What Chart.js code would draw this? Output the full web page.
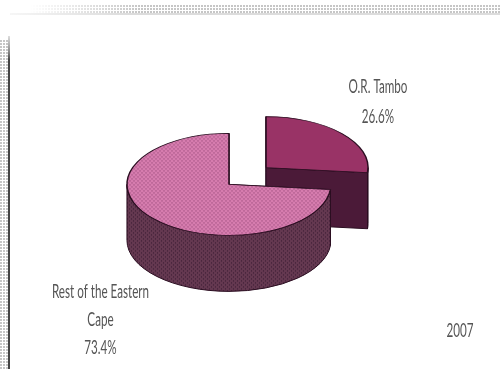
<!DOCTYPE html>
<html>
<head>
<meta charset="utf-8">
<script src="https://cdn.jsdelivr.net/npm/chart.js@4"></script>
<style>
  html, body { margin: 0; padding: 0; background: #fff; }
  #page { position: relative; width: 500px; height: 369px; overflow: hidden; }
  #topDots {
    position: absolute; left: 30px; right: 0; top: 5px; height: 8px;
    background-image: radial-gradient(circle at 1px 1px, #c6c6c6 0.8px, transparent 1.1px);
    background-size: 3px 3px;
    -webkit-mask-image: linear-gradient(90deg, transparent, #000 110px);
  }
  #topRule { position: absolute; left: 10px; right: 0; top: 13px; height: 2px; background: linear-gradient(90deg, #f6f6f6, #dcdcdc 120px); }
  #leftDots {
    position: absolute; left: 0; width: 8px; top: 40px; bottom: 0;
    background-image: radial-gradient(circle at 1px 1px, #c6c6c6 0.8px, transparent 1.1px);
    background-size: 3px 3px;
  }
  #leftRule { position: absolute; left: 8px; width: 2px; top: 36px; bottom: 0; background: linear-gradient(#ddd, #888 16px, #444 24px); }
  canvas { position: absolute; left: 0; top: 0; }
</style>
</head>
<body>
<div id="page">
  <div id="topDots"></div>
  <div id="topRule"></div>
  <div id="leftDots"></div>
  <div id="leftRule"></div>
  <canvas id="pieChart" width="500" height="369"></canvas>
</div>
<script>
const labels = [["O.R. Tambo"], ["Rest of the Eastern", "Cape"]];
const values = [26.6, 73.4];
const yearLabel = "2007";

const squash = 0.5;      // tilt of the pie
const wallDepth = 56;
const explode = 25;      // how far each slice sits from the centre
const textColor = "#555";

function dots(base, dot, stretch) {
  const tile = document.createElement("canvas");
  tile.width = 4;
  tile.height = 4;
  const c = tile.getContext("2d");
  c.fillStyle = base;
  c.fillRect(0, 0, 4, 4);
  c.fillStyle = dot;
  c.fillRect(0, 0, 1, 1);
  c.fillRect(2, 2, 1, 1);
  const pattern = c.createPattern(tile, "repeat");
  pattern.setTransform(new DOMMatrix().scale(1, stretch));
  return pattern;
}

const topColors = ["#993366", dots("#d67cae", "#86396a", 1 / squash)];
const wallColors = ["#4b1a38", dots("#643850", "#381a30", 1)];

function drawWall(ctx, arc, color) {
  const r = arc.outerRadius;
  const s = arc.startAngle;
  const e = arc.endAngle;
  const px = (a) => Math.cos(a) * r;
  const py = (a) => Math.sin(a) * r * squash;
  ctx.fillStyle = color;
  ctx.strokeStyle = "#2a0d20";
  ctx.lineWidth = 1;

  // flat cut faces
  [s, e].forEach((a) => {
    ctx.beginPath();
    ctx.moveTo(0, 0);
    ctx.lineTo(px(a), py(a));
    ctx.lineTo(px(a), py(a) + wallDepth);
    ctx.lineTo(0, wallDepth);
    ctx.closePath();
    ctx.fill();
    ctx.stroke();
  });

  // curved outer face, front half only
  const from = Math.max(s, 0);
  const to = Math.min(e, Math.PI);
  if (to > from) {
    ctx.beginPath();
    ctx.ellipse(0, 0, r, r * squash, 0, from, to);
    ctx.ellipse(0, wallDepth, r, r * squash, 0, to, from, true);
    ctx.closePath();
    ctx.fill();
    ctx.stroke();
  }
}

const pie3d = {
  id: "pie3d",
  beforeDatasetDraw(chart, args) {
    const ctx = chart.ctx;
    args.meta.data.forEach((arc, i) => {
      const mid = (arc.startAngle + arc.endAngle) / 2;
      ctx.save();
      ctx.translate(arc.x + Math.cos(mid) * explode, arc.y + Math.sin(mid) * explode * squash);
      drawWall(ctx, arc, wallColors[i]);
      ctx.scale(1, squash);
      ctx.translate(-arc.x, -arc.y);
      arc.draw(ctx);
      ctx.restore();
    });
    return false;
  }
};

function stretchedText(ctx, text, x, y) {
  ctx.save();
  ctx.translate(x, y);
  ctx.scale(0.63, 1);
  ctx.fillText(text, 0, 0);
  ctx.restore();
}

const pieText = {
  id: "pieText",
  afterDraw(chart) {
    const ctx = chart.ctx;
    const spots = [{ x: 378, y: [87, 117] }, { x: 100.5, y: [292, 320, 348] }];
    ctx.save();
    ctx.font = '18.5px Lato, "Open Sans", sans-serif';
    ctx.fillStyle = textColor;
    ctx.textAlign = "center";
    ctx.textBaseline = "middle";
    labels.forEach((lines, i) => {
      const rows = lines.concat(values[i] + "%");
      rows.forEach((row, j) => stretchedText(ctx, row, spots[i].x, spots[i].y[j]));
    });
    stretchedText(ctx, yearLabel, 460, 331);
    ctx.restore();
  }
};

new Chart(document.getElementById("pieChart"), {
  type: "pie",
  data: {
    labels: labels.map((lines) => lines.join(" ")),
    datasets: [{
      data: values,
      backgroundColor: topColors,
      borderColor: "#2a0d20",
      borderWidth: 1.5
    }]
  },
  options: {
    responsive: false,
    animation: false,
    radius: 102,
    layout: { padding: { left: 0, right: 5, top: 0, bottom: 17 } },
    plugins: { legend: { display: false }, tooltip: { enabled: false } }
  },
  plugins: [pie3d, pieText]
});
</script>
</body>
</html>
